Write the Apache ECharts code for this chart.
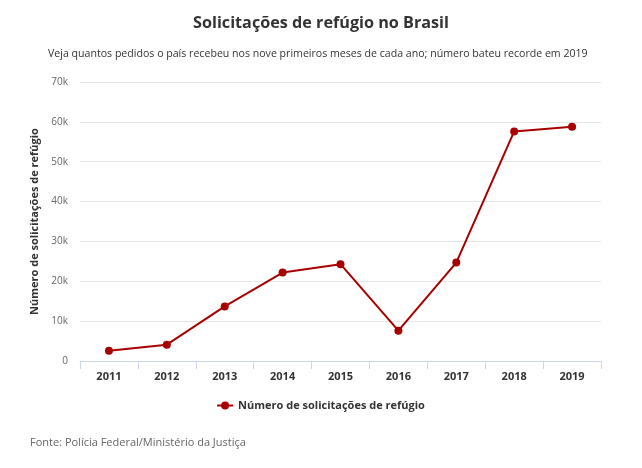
<!DOCTYPE html>
<html><head><meta charset="utf-8">
<script src="https://cdn.jsdelivr.net/npm/echarts@6/dist/echarts.min.js"></script>
<style>html,body{margin:0;padding:0;background:#fff}#c{width:642px;height:468px}</style>
</head><body><div id="c"></div>
<script>
const years = ['2011','2012','2013','2014','2015','2016','2017','2018','2019'];
const pedidos = [2600, 4100, 13700, 22200, 24300, 7600, 24700, 57600, 58800];
const yTicks = [0, 10000, 20000, 30000, 40000, 50000, 60000, 70000];
const seriesName = 'Número de solicitações de refúgio';

const font = '"Open Sans", "Noto Sans", sans-serif';
const chart = echarts.init(document.getElementById('c'));
const legendIcon = 'path://M0,3 L4.2,3 L4.2,5 L0,5 Z M11.8,3 L16,3 L16,5 L11.8,5 Z M4,4 A4,4 0 1,1 12,4 A4,4 0 1,1 4,4 Z';
chart.setOption({
  animation: false,
  backgroundColor: '#fff',
  title: [
    {text: 'Solicitações de refúgio no Brasil', left: 'center', top: 10,
     textStyle: {fontFamily: font, fontSize: 16.2, fontWeight: 'bold', color: '#333'}},
    {text: 'Veja quantos pedidos o país recebeu nos nove primeiros meses de cada ano; número bateu recorde em 2019',
     left: 43, top: 43, textStyle: {fontFamily: font, fontSize: 10.6, fontWeight: 'normal', color: '#333'}},
    {text: 'Fonte: Polícia Federal/Ministério da Justiça', left: 25, top: 432,
     textStyle: {fontFamily: font, fontSize: 11, fontWeight: 'normal', color: '#666'}}
  ],
  legend: {
    bottom: 52, left: 'center', itemWidth: 16, itemHeight: 8, itemGap: 6,
    textStyle: {fontFamily: font, fontSize: 11, fontWeight: 'bold', color: '#333'},
    data: [{name: seriesName, icon: legendIcon}]
  },
  grid: {left: 80, right: 41, top: 82, bottom: 107},
  xAxis: {
    type: 'category', data: years, boundaryGap: true,
    axisLine: {lineStyle: {color: '#ccd6eb'}},
    axisTick: {show: true, length: 8, lineStyle: {color: '#ccd6eb'}, alignWithLabel: false},
    axisLabel: {fontFamily: font, fontSize: 11, fontWeight: 'bold', color: '#333', margin: 10}
  },
  yAxis: {
    type: 'value', min: yTicks[0], max: yTicks[yTicks.length-1], interval: 10000,
    name: 'Número de solicitações de refúgio', nameLocation: 'middle', nameGap: 40,
    nameTextStyle: {fontFamily: font, fontSize: 11, fontWeight: 'bold', color: '#333'},
    axisLine: {show: false}, axisTick: {show: false},
    splitLine: {lineStyle: {color: '#e6e6e6'}},
    axisLabel: {fontFamily: font, fontSize: 10, color: '#666', margin: 12,
      formatter: v => v === 0 ? '0' : (v/1000) + 'k'}
  },
  series: [{
    name: seriesName, type: 'line', data: pedidos,
    symbol: 'circle', symbolSize: 8,
    lineStyle: {color: '#a80000', width: 2},
    itemStyle: {color: '#a80000'}
  }]
});
</script></body></html>
